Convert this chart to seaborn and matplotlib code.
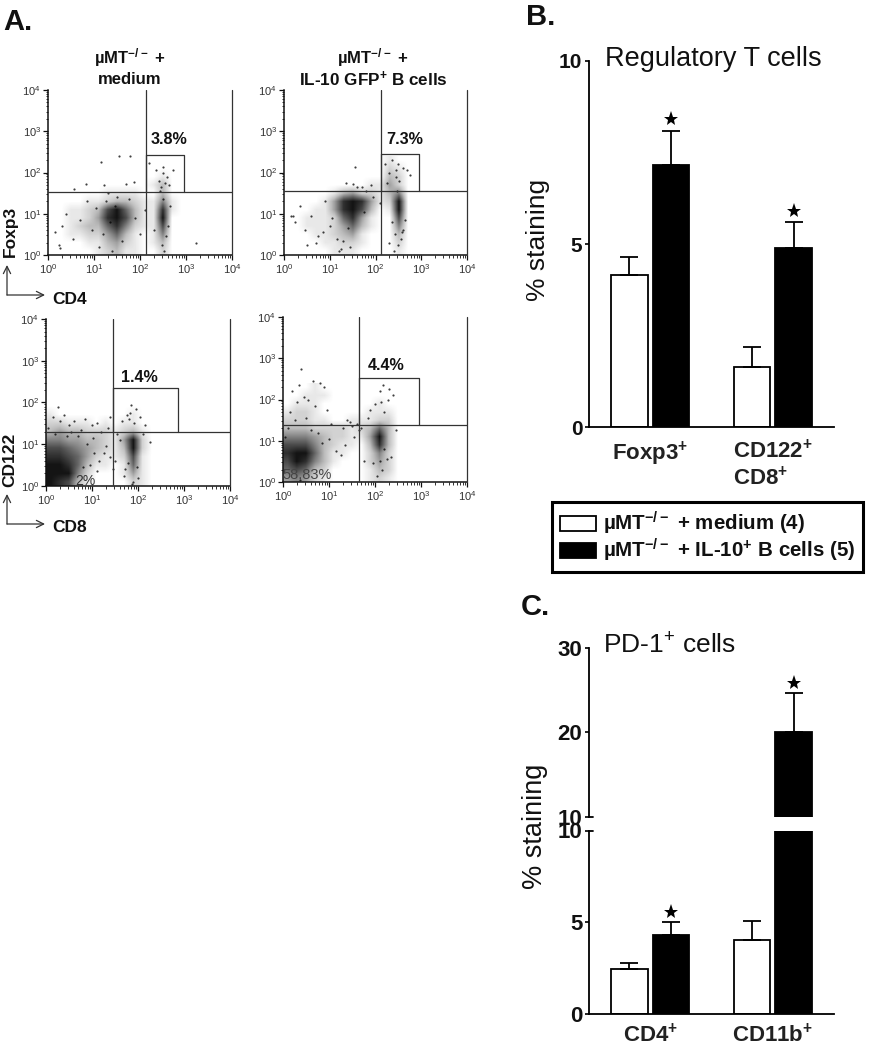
import numpy as np
import pandas as pd
import matplotlib
matplotlib.use("Agg")
import matplotlib.pyplot as plt
from matplotlib.colors import LinearSegmentedColormap
import seaborn as sns

sns.set_theme(style="white")
plt.rcParams["font.family"] = ["Liberation Sans", "DejaVu Sans"]
plt.rcParams["mathtext.default"] = "regular"
plt.rcParams["mathtext.fontset"] = "dejavusans"

W, H = 873, 1050
SERIES = ["µMT$^{-/-}$ + medium (4)", "µMT$^{-/-}$ + IL-10$^{+}$ B cells (5)"]

# Panel B
b_groups = ["Foxp3$^{+}$", "CD122$^{+}$\nCD8$^{+}$"]
b_medium = [4.16, 1.65]
b_medium_err = [4.65, 2.2]
b_il10 = [7.15, 4.9]
b_il10_err = [8.1, 5.6]
b_star_y = [8.42, 5.91]

# Panel C
c_groups = ["CD4$^{+}$", "CD11b$^{+}$"]
c_medium = [2.44, 4.04]
c_medium_err = [2.77, 5.08]
c_il10 = [4.3, 20.0]
c_il10_err = [5.0, 24.7]
c_star_y = [5.57, 25.8]

# Density by eye: rows from log10 y = 2.4 down to 0, columns log10 x = 0 to 3, 0.2 decade cells
p1_density = ["000000000000000", "000000000000000", "000000000000100", "000000000001300",
              "000000111100300", "000011233211510", "001123796311810", "001124897311900",
              "001233685211700", "001122463101500", "000011342101300", "000001231100200"]
p2_density = ["000000000001000", "000000000002100", "000000000003200", "000000000114200",
              "000001342213500", "000014898412900", "000114897301900", "001112684100700",
              "001112463100500", "000112341000300", "000011221000200", "000001110000100"]
p3_density = ["000000000000000", "000000000000000", "000000000000000", "100000000100000",
              "221110101100000", "343322212310000", "554433214920000", "776543213920000",
              "887642112710000", "998631101610000", "999520001410000", "987310000210000"]
p4_density = ["000100000000000", "001110000000000", "011100000010000", "122100000111000",
              "222110011122000", "333222212363000", "555432211493000", "777532110383000",
              "899631100252000", "798531000242000", "676320000132000", "454210000121000"]

# Individual events (log10 units)
p1_x = [1.55,1.79,1.15,.83,.57,.23,.25,3.22,1.7,1.88,1.22,2.2,2.49,2.71,2.35,2.42,2.58,2.45,2.62,2.5,1.3,1.4,1.1,1.6,1.25,.4,.7,.95,.55,.3,1.9,2.0,1.5,1.2,1.35,1.45,2.52,2.48,2.56,2.6,.15,.85,1.05,1.75,2.1,2.66,2.3,2.44,2.55,2.5]
p1_y = [2.4,2.4,2.26,1.72,1.6,.24,.16,.3,1.73,1.77,1.69,2.24,2.14,2.06,2.06,1.8,1.9,1.66,1.7,2.0,1.5,.1,.2,.35,1.3,1.0,.85,.6,.4,.7,.9,.5,1.4,.5,.8,1.2,.1,.25,.45,.7,.55,1.3,1.15,1.35,1.1,1.2,.6,1.55,1.75,1.35]
p2_x = [1.55,2.2,2.35,2.5,2.68,2.75,2.3,2.45,2.6,2.25,1.9,1.8,1.7,1.2,1.45,.2,.35,.5,.7,.85,1.0,.45,.25,.6,.9,1.15,1.3,1.4,1.25,2.4,2.5,2.55,2.6,2.42,2.35,2.3,2.65,1.05,1.6,1.75,.15,.75,1.35,1.5,2.1,1.95,2.48,2.52,2.45,2.58]
p2_y = [2.13,2.2,2.3,2.2,2.05,1.95,2.0,1.9,2.1,1.75,1.7,1.55,1.65,.1,.2,.95,1.2,.25,.3,.55,.7,.6,.8,.95,1.3,.4,.35,.65,.15,.1,.25,.4,.6,.5,.8,.3,.85,.9,1.65,1.05,.95,.45,1.75,1.72,1.25,1.4,1.55,1.8,2.05,.55]
p3_x = [.25,.15,.4,.6,.85,1.1,1.4,1.65,1.35,1.0,.75,.3,.5,1.2,1.55,1.85,1.95,1.75,2.05,2.15,1.8,1.9,1.7,2.0,1.25,1.5,.95,1.1,1.3,1.4,1.6,.05,.7,.9,1.15,1.05,.55,.2,.45,.8,1.45,2.1,1.72,1.98,2.25,1.88,1.92,1.82,1.78,1.02]
p3_y = [1.9,1.65,1.7,1.55,1.6,1.5,1.65,1.55,1.4,1.45,1.35,1.55,1.45,1.3,1.25,1.95,1.85,1.7,1.65,1.45,1.6,.1,.25,.2,.8,.6,.5,.35,.95,.7,1.1,1.4,1.2,1.0,.6,.8,1.3,1.25,1.2,.45,.4,1.25,.4,.45,1.05,.05,1.5,1.75,.55,1.15]
p4_x = [.4,.35,.2,.65,.8,.9,.45,.3,.15,.55,.7,.95,.25,.5,1.05,1.3,1.45,1.6,1.7,1.85,1.9,2.1,2.3,2.4,2.0,2.2,2.05,2.15,2.25,1.95,2.35,2.2,2.1,1.55,1.35,1.15,1.0,1.25,1.75,.1,.6,.75,.85,1.65,1.5,1.4,2.45,2.28,.05,.38,2.12,2.18]
p4_y = [2.75,2.35,2.2,2.45,2.4,2.3,2.05,1.95,1.7,2.0,1.85,1.75,1.5,1.55,1.4,1.3,1.45,1.4,1.3,1.55,1.75,2.2,2.25,2.1,1.9,1.7,.15,.3,.55,.45,.6,.8,.5,1.1,.9,.75,1.05,.65,.5,1.3,1.25,1.2,.95,1.25,1.35,1.5,1.25,2.0,1.1,.05,1.95,2.35]

p1_gate = dict(v=2.12, h=1.53, right=2.95, top=2.43)
p2_gate = dict(v=2.12, h=1.55, right=2.96, top=2.45)
p3_gate = dict(v=1.46, h=1.30, right=2.87, top=2.35)
p4_gate = dict(v=1.65, h=1.38, right=2.96, top=2.52)

fig = plt.figure(figsize=(W / 100, H / 100), dpi=100, facecolor="white")
BOLD = dict(fontweight="bold", color="#111111")
density_cmap = LinearSegmentedColormap.from_list("dots", ["#ffffff", "#bcbcbc", "#666666", "#141414"])


def px_axes(l, t, r, b):
    return fig.add_axes([l / W, 1 - b / H, (r - l) / W, (b - t) / H])


def ftext(x, y, s, **kw):
    kw.setdefault("ha", "center")
    kw.setdefault("va", "center")
    return fig.text(x / W, 1 - y / H, s, **kw)


def facs(box, density, dx, dy, gate):
    ax = px_axes(*box)
    grid = np.array([[int(c) for c in row] for row in density], dtype=float)
    ax.imshow(grid, cmap=density_cmap, vmin=0, vmax=9, extent=(0, 3, 0, 2.4),
              aspect="auto", interpolation="bilinear", zorder=1)
    sns.scatterplot(x=dx, y=dy, s=2.5, color="black", alpha=.75, linewidth=0, ax=ax, zorder=2)
    ax.set_xlim(0, 4)
    ax.set_ylim(0, 4)
    ax.set_facecolor("none")
    line = dict(color="#333333", lw=0.9, zorder=3)
    ax.axvline(gate["v"], **line)
    ax.axvline(4, **line, clip_on=False)
    ax.axhline(gate["h"], **line)
    ax.plot([gate["v"], gate["right"], gate["right"]],
            [gate["top"], gate["top"], gate["h"]], **line)
    ax.plot([gate["v"], gate["v"]], [gate["h"], gate["top"]], **line)
    for s in ("top", "right"):
        ax.spines[s].set_visible(False)
    for s in ("left", "bottom"):
        ax.spines[s].set_color("#111111")
        ax.spines[s].set_linewidth(1.1)
    minor = [d + np.log10(m) for d in range(4) for m in range(2, 10)]
    for axis in (ax.xaxis, ax.yaxis):
        axis.set_ticks(range(5))
        axis.set_ticks(minor, minor=True)
        axis.set_ticklabels([f"$10^{{{k}}}$" for k in range(5)])
    ax.tick_params(which="major", length=3.5, width=.9, bottom=True, left=True,
                   labelsize=8, labelcolor="#333333", pad=1.5, color="#111111")
    ax.tick_params(which="minor", length=1.8, width=.6, bottom=True, left=True, color="#111111")
    ax.set_xlabel("")
    ax.set_ylabel("")
    return ax


facs((48, 90, 232, 255), p1_density, p1_x, p1_y, p1_gate)
facs((284, 90, 467, 255), p2_density, p2_x, p2_y, p2_gate)
facs((46, 319, 230, 486), p3_density, p3_x, p3_y, p3_gate)
facs((283, 317, 467, 482), p4_density, p4_x, p4_y, p4_gate)


def bars(ax, groups, medium, medium_err, il10, il10_err, star_y, top_limit):
    df = pd.DataFrame({
        "group": groups * 2,
        "value": medium + il10,
        "series": [SERIES[0]] * len(groups) + [SERIES[1]] * len(groups),
    })
    sns.barplot(data=df, x="group", y="value", hue="series", order=groups, hue_order=SERIES,
                palette=["white", "black"], edgecolor="black", linewidth=1.3,
                width=.68, gap=.12, errorbar=None, ax=ax, legend=True, saturation=1)
    handles, labels = ax.get_legend_handles_labels()
    ax.get_legend().remove()
    centers = []
    for container, vals, errs in zip(ax.containers, (medium, il10), (medium_err, il10_err)):
        xs = [p.get_x() + p.get_width() / 2 for p in container.patches]
        centers.append(xs)
        ax.errorbar(xs, vals, yerr=[np.zeros(len(vals)), np.array(errs) - np.array(vals)],
                    fmt="none", ecolor="black", elinewidth=1.3, capsize=6.7, capthick=1.3, zorder=1)
    ax.plot(centers[1], star_y, ls="none", marker="*", ms=11, color="black", mew=0, clip_on=True)
    ax.set_xlim(-.5, 1.5)
    ax.set_xlabel("")
    ax.set_ylabel("")
    for s in ("top", "right"):
        ax.spines[s].set_visible(False)
    for s in ("left", "bottom"):
        ax.spines[s].set_color("black")
        ax.spines[s].set_linewidth(1.3)
    ax.tick_params(axis="y", length=3.2, width=1.3, left=True, pad=1.5, labelsize=15, colors="#111111")
    return handles, labels


# Panel B
ax_b = px_axes(589, 61, 834, 427.3)
handles, labels = bars(ax_b, b_groups, b_medium, b_medium_err, b_il10, b_il10_err, b_star_y, 10)
ax_b.set_ylim(0, 10)
ax_b.set_yticks([0, 5, 10])
ax_b.set_yticklabels(["0", "5", "10"], fontweight="bold", fontsize=15)
ax_b.tick_params(axis="x", length=0, pad=9)
for t in ax_b.get_xticklabels():
    t.set_fontweight("bold")
    t.set_fontsize(16)
    t.set_multialignment("left")
    t.set_linespacing(1.2)
    t.set_color("#222222")

# Panel C, broken axis
ax_c2 = px_axes(589, 648, 834, 816.7)
bars(ax_c2, c_groups, c_medium, c_medium_err, c_il10, c_il10_err, c_star_y, 30)
ax_c2.set_ylim(10, 30)
ax_c2.set_yticks([10, 20, 30])
ax_c2.set_yticklabels(["10", "20", "30"], fontweight="bold", fontsize=16)
ax_c2.spines["bottom"].set_visible(False)
ax_c2.tick_params(axis="x", length=0, labelbottom=False)

ax_c1 = px_axes(589, 830.5, 834, 1014)
bars(ax_c1, c_groups, c_medium, c_medium_err, c_il10, c_il10_err, c_star_y, 10)
ax_c1.set_ylim(0, 10)
ax_c1.set_yticks([0, 5, 10])
ax_c1.set_yticklabels(["0", "5", "10"], fontweight="bold", fontsize=16)
ax_c1.spines["top"].set_visible(False)
ax_c1.tick_params(axis="x", length=0, pad=7)
for t in ax_c1.get_xticklabels():
    t.set_fontweight("bold")
    t.set_fontsize(16)
    t.set_color("#222222")
for ax_break, yb in ((ax_c2, 10), (ax_c1, 10)):
    ax_break.plot([0, .018], [yb, yb], color="black", lw=1.3,
                  transform=ax_break.get_yaxis_transform(), clip_on=False)

# Legend
leg = fig.legend(handles, labels, loc="upper left", bbox_to_anchor=(552 / W, 1 - 502 / H),
                 borderaxespad=0, fancybox=False, framealpha=1, edgecolor="black",
                 prop=dict(family="Liberation Sans", weight="bold", size=14.8),
                 handlelength=1.75, handleheight=.8, handletextpad=.36, labelspacing=0,
                 borderpad=.38)
leg.get_frame().set_linewidth(2.2)
for t in leg.get_texts():
    t.set_color("#111111")

# Text
ftext(3, 22, "A.", ha="left", fontsize=21, **BOLD)
ftext(526, 17, "B.", ha="left", fontsize=21, **BOLD)
ftext(521, 607, "C.", ha="left", fontsize=21, **BOLD)
ftext(130, 58, "µMT$^{-/-}$ +", fontsize=12, **BOLD)
ftext(130, 79, "medium", fontsize=12, **BOLD)
ftext(373, 58, "µMT$^{-/-}$ +", fontsize=12, **BOLD)
ftext(373, 79, "IL-10 GFP$^{+}$ B cells", fontsize=12.3, **BOLD)
ftext(169, 139, "3.8%", fontsize=11.6, **BOLD)
ftext(405, 139, "7.3%", fontsize=11.6, **BOLD)
ftext(139, 377, "1.4%", fontsize=11.6, **BOLD)
ftext(386, 366, "4.4%", fontsize=11.6, **BOLD)
ftext(85, 481, "2%", fontsize=10, color="#333333")
ftext(307, 475, "58.83%", fontsize=10.5, color="#444444")
ftext(10, 231, "Foxp3", rotation=90, fontsize=12.5, **BOLD)
ftext(70, 300, "CD4", fontsize=12.5, **BOLD)
ftext(10, 460, "CD122", rotation=90, fontsize=12.5, **BOLD)
ftext(70, 528, "CD8", fontsize=12.5, **BOLD)
ftext(713, 59, "Regulatory T cells", fontsize=19.5, color="#111111")
ftext(538, 240, "% staining", rotation=90, fontsize=19, color="#111111")
ftext(603, 646, "PD-1$^{+}$ cells", ha="left", fontsize=19, color="#111111")
ftext(535, 826, "% staining", rotation=90, fontsize=19.5, color="#111111")

# Flow plot arrows
for top, corner in ((265, 295), (494, 524)):
    fig.add_artist(matplotlib.patches.FancyArrowPatch(
        (7 / W, 1 - corner / H), (7 / W, 1 - top / H), transform=fig.transFigure,
        arrowstyle="->", mutation_scale=13, lw=.9, color="#333333", shrinkA=0, shrinkB=0))
    fig.add_artist(matplotlib.patches.FancyArrowPatch(
        (7 / W, 1 - corner / H), (45 / W, 1 - corner / H), transform=fig.transFigure,
        arrowstyle="->", mutation_scale=13, lw=.9, color="#333333", shrinkA=0, shrinkB=0))

fig.savefig("out.png", dpi=100, facecolor="white")
